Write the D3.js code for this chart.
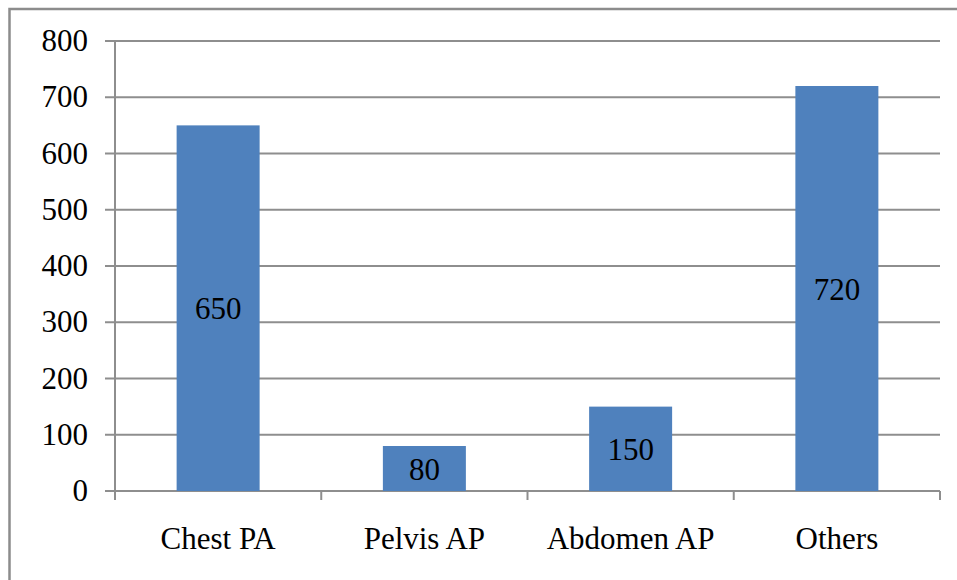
<!DOCTYPE html>
<html>
<head>
<meta charset="utf-8">
<script src="https://cdn.jsdelivr.net/npm/d3@7"></script>
<style>
  body { margin: 0; background: #fff; }
  svg { display: block; }
  svg text { font-family: "Liberation Serif", "Times New Roman", Times, serif; font-size: 31px; fill: #000; }
</style>
</head>
<body>
<div id="chart"></div>
<script>
const categories = ["Chest PA", "Pelvis AP", "Abdomen AP", "Others"];
const values = [650, 80, 150, 720];
const yTicks = [0, 100, 200, 300, 400, 500, 600, 700, 800];

const width = 957;
const height = 580;
const plotLeft = 115, plotRight = 940, plotTop = 41, plotBottom = 491;

const svg = d3.select("#chart")
  .append("svg")
  .attr("width", width)
  .attr("height", height);

// outer frame
svg.append("rect")
  .attr("x", 9.5).attr("y", 9)
  .attr("width", 1000).attr("height", 1000)
  .attr("fill", "none")
  .attr("stroke", "#8c8c8c")
  .attr("stroke-width", 2.5);

const band = d3.scaleBand().domain(categories).range([plotLeft, plotRight]);
const y = d3.scaleLinear().domain([0, 800]).range([plotBottom, plotTop]);

const grey = "#8e8e8e";

// gridlines + y ticks
svg.append("g").selectAll("line")
  .data(yTicks)
  .join("line")
  .attr("x1", plotLeft - 10).attr("x2", plotRight)
  .attr("y1", d => y(d)).attr("y2", d => y(d))
  .attr("stroke", grey).attr("stroke-width", 2);

// y axis line
svg.append("line")
  .attr("x1", plotLeft).attr("x2", plotLeft)
  .attr("y1", plotTop).attr("y2", plotBottom + 9)
  .attr("stroke", grey).attr("stroke-width", 2);

// x ticks at category boundaries
const bounds = categories.map(c => band(c)).concat([plotRight]);
svg.append("g").selectAll("line")
  .data(bounds.slice(1))
  .join("line")
  .attr("x1", d => d).attr("x2", d => d)
  .attr("y1", plotBottom).attr("y2", plotBottom + 9)
  .attr("stroke", grey).attr("stroke-width", 2);

// y labels
svg.append("g").selectAll("text")
  .data(yTicks)
  .join("text")
  .attr("x", 88)
  .attr("y", d => y(d) + 10)
  .attr("text-anchor", "end")
  .text(d => d);

// bars
svg.append("g").selectAll("rect")
  .data(values)
  .join("rect")
  .attr("x", (d, i) => band(categories[i]) + band.bandwidth() / 2 - 41.5)
  .attr("width", 83)
  .attr("y", d => y(d))
  .attr("height", d => y(0) - y(d))
  .attr("fill", "#4f81bd");

// data labels
svg.append("g").selectAll("text")
  .data(values)
  .join("text")
  .attr("x", (d, i) => band(categories[i]) + band.bandwidth() / 2)
  .attr("y", d => (y(d) + y(0)) / 2 + 11)
  .attr("text-anchor", "middle")
  .text(d => d);

// category labels
svg.append("g").selectAll("text")
  .data(categories)
  .join("text")
  .attr("x", d => band(d) + band.bandwidth() / 2)
  .attr("y", 549)
  .attr("text-anchor", "middle")
  .text(d => d);
</script>
</body>
</html>
